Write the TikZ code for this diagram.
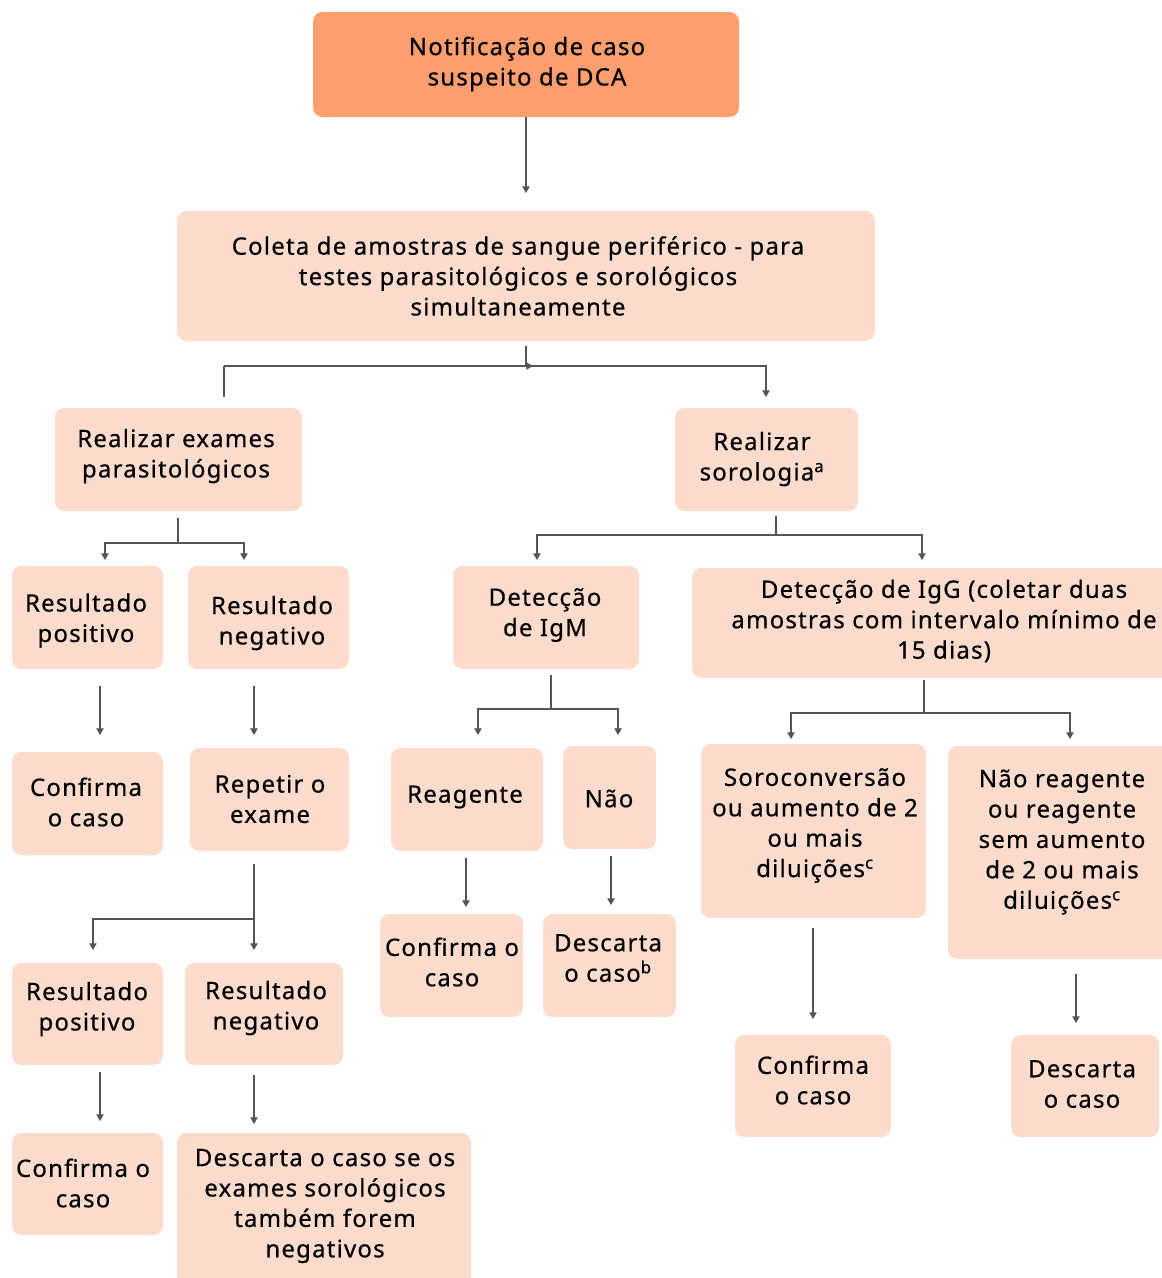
\documentclass[tikz,border=0pt]{standalone}
\usepackage{fontspec}
\setmainfont{Noto Sans}[LetterSpace=5,FakeBold=0.5]
\usetikzlibrary{arrows.meta,calc}
\definecolor{boxfill}{HTML}{FDDCCD}
\definecolor{topfill}{HTML}{FF9E6E}
\definecolor{linegray}{HTML}{555555}

% #1 fill, #2 name, #3..#6 box corners (x1,y1,x2,y2), #7,#8 text centre, #9 text
\newcommand\mkbox[9][boxfill]{%
  \node[flowbox, fill=#1, minimum width={(#5-#3)*0.75pt}, minimum height={(#6-#4)*0.75pt}]
    (#2) at ({(#3+#5)/2},{(#4+#6)/2}) {};
  \node[flowtext] (#2-t) at (#7,#8) {#9};
}

\begin{document}
\begin{tikzpicture}[x=0.75pt,y=-0.75pt,
  flowbox/.style={draw=none, rounded corners=7pt, inner sep=0pt, outer sep=0pt},
  flowtext/.style={align=center, inner sep=0pt, font=\fontsize{18}{22.8}\selectfont},
  line/.style={draw=linegray, line width=0.9pt},
  arr/.style={line, -{Triangle[width=5.5pt,length=5pt]}}]
\useasboundingbox (0,0) rectangle (1162,1278);
\clip (0,0) rectangle (1162,1278);

% boxes
\mkbox[topfill]{top}{313}{12}{739}{117}{527}{64}{Notificação de caso\\suspeito de DCA}
\mkbox{coleta}{177}{211}{875}{341}{518}{276}{Coleta de amostras de sangue periférico - para\\testes parasitológicos e sorológicos\\simultaneamente}
\mkbox{exames}{55}{408}{302}{511}{176}{456}{Realizar exames\\parasitológicos}
\mkbox{soro}{675}{408}{858}{511}{762}{459}{Realizar\\sorologia\textsuperscript{a}}
\mkbox{rp1}{12}{566}{163}{669}{86}{620.5}{Resultado\\positivo}
\mkbox{rn1}{188}{566}{349}{669}{272}{623}{Resultado\\negativo}
\mkbox{igm}{453}{566}{639}{669}{545}{615}{Detecção\\de IgM}
\mkbox{igg}{692}{568}{1196}{678}{944}{621}{Detecção de IgG (coletar duas\\amostras com intervalo mínimo de\\15 dias)}
\mkbox{cf1}{12}{752}{163}{855}{86}{802}{Confirma\\o caso}
\mkbox{rep}{190}{748}{349}{851}{270}{799}{Repetir o\\exame}
\mkbox{rea}{391}{748}{543}{851}{465}{797}{Reagente}
\mkbox{nao}{563}{746}{656}{849}{609}{798.5}{Não}
\mkbox{conv}{701}{744}{926}{918}{815}{825.5}{Soroconversão\\ou aumento de 2\\ou mais\\diluições\textsuperscript{c}}
\mkbox{nrg}{948}{746}{1176}{959}{1062}{842}{Não reagente\\ou reagente\\sem aumento\\de 2 ou mais\\diluições\textsuperscript{c}}
\mkbox{rp2}{12}{963}{163}{1065}{87}{1009}{Resultado\\positivo}
\mkbox{rn2}{185}{963}{343}{1065}{266}{1008}{Resultado\\negativo}
\mkbox{cfm}{380}{914}{523}{1017}{452}{962}{Confirma o\\caso}
\mkbox{dsb}{543}{914}{676}{1017}{608}{958}{Descarta\\o caso\textsuperscript{b}}
\mkbox{cfs}{735}{1035}{891}{1137}{813}{1080}{Confirma\\o caso}
\mkbox{dcn}{1011}{1035}{1159}{1137}{1082}{1084}{Descarta\\o caso}
\mkbox{cf2}{12}{1133}{163}{1235}{83}{1183}{Confirma o\\caso}
\mkbox{dfin}{177}{1133}{471}{1290}{325}{1206}{Descarta o caso se os\\exames sorológicos\\também forem\\negativos}

% junctions and arrow ends
\coordinate (j1) at (526,366);
\coordinate (j1l) at (224,366);
\coordinate (e1l) at (224,397);
\coordinate (e1r) at (766,397);
\coordinate (j2) at (178,543);
\coordinate (e2l) at (105,560);
\coordinate (e2r) at (244,560);
\coordinate (j3) at (776,535);
\coordinate (e3l) at (537,560);
\coordinate (e3r) at (922,560);
\coordinate (j4) at (551,709);
\coordinate (e4l) at (478,735);
\coordinate (e4r) at (618,735);
\coordinate (j5) at (924,713);
\coordinate (e5l) at (791,739);
\coordinate (e5r) at (1070,739);
\coordinate (j6) at (254,919);
\coordinate (e6l) at (93,950);
\coordinate (e6r) at (254,950);

% connectors
\draw[arr] (top.south) -- ($(coleta.north)+(0,-18)$);

\draw[line] ($(coleta.south)+(0,5)$) -- (j1);
\draw[line] (j1l) -- (e1l);
\draw[arr] (j1l) -| (e1r);
\draw[arr] (j1) -- ($(j1)+(7,0)$);

\draw[line] ($(exames.south)+(-0.5,7)$) -- (j2);
\draw[arr] (j2) -| (e2l);
\draw[arr] (j2) -| (e2r);

\draw[line] ($(soro.south)+(9.5,5)$) -- (j3);
\draw[arr] (j3) -| (e3l);
\draw[arr] (j3) -| (e3r);

\draw[line] ($(igm.south)+(5,6)$) -- (j4);
\draw[arr] (j4) -| (e4l);
\draw[arr] (j4) -| (e4r);

\draw[line] ($(igg.south)+(-20,2)$) -- (j5);
\draw[arr] (j5) -| (e5l);
\draw[arr] (j5) -| (e5r);

\draw[arr] ($(rp1.south)+(12.5,17)$) -- ($(cf1.north)+(12.5,-17)$);
\draw[arr] ($(rn1.south)+(-14.5,17)$) -- ($(rep.north)+(-15.5,-13)$);

\draw[arr] ($(rep.south)+(-15.5,13)$) -- (e6r);
\draw[arr] (j6) -| (e6l);

\draw[arr] ($(rea.south)+(-1,7)$) -- ($(cfm.north)+(14.5,-7)$);
\draw[arr] ($(nao.south)+(1.5,7)$) -- ($(dsb.north)+(1.5,-9)$);
\draw[arr] ($(conv.south)+(-0.5,10)$) -- ($(cfs.north)+(0,-16)$);
\draw[arr] ($(nrg.south)+(14,15)$) -- ($(dcn.north)+(-9,-12)$);
\draw[arr] ($(rp2.south)+(12.5,7)$) -- ($(cf2.north)+(12.5,-12)$);
\draw[arr] ($(rn2.south)+(-10,10)$) -- ($(dfin.north)+(-70,-9)$);
\end{tikzpicture}
\end{document}
